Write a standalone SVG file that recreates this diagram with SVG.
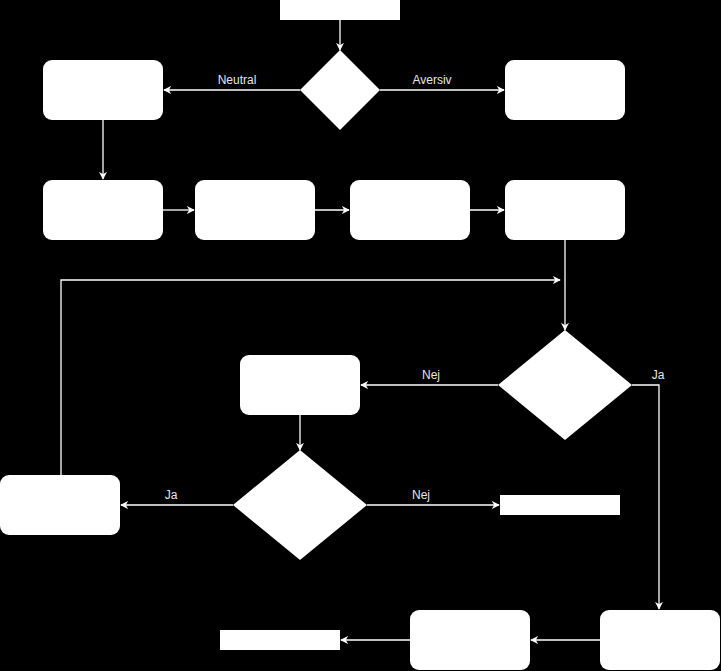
<svg xmlns="http://www.w3.org/2000/svg" width="721" height="671" viewBox="0 0 721 671">
<style>
.n{fill:#fff}
.e{fill:none;stroke:#fff;stroke-width:1.3;marker-end:url(#a)}
.l{fill:#e6e6e6;font-family:"Liberation Sans",Arial,sans-serif;font-size:12px;text-anchor:middle}
</style>
<defs><marker id="a" viewBox="0 0 10 10" refX="9" refY="5" markerWidth="8" markerHeight="8" markerUnits="userSpaceOnUse" orient="auto"><path d="M0,0 L10,5 L0,10 L3,5 Z" fill="#fff"/></marker></defs>
<rect width="721" height="671" fill="#000"/>
<g id="connectors">
<path class="e" d="M340,20 V50"/>
<path class="e" d="M300,90 H164"/>
<path class="e" d="M380,90 H504"/>
<path class="e" d="M103,120 V179"/>
<path class="e" d="M163,210 H194"/>
<path class="e" d="M315,210 H349"/>
<path class="e" d="M470,210 H504"/>
<path class="e" d="M565,240 V330"/>
<path class="e" d="M61,475 V280 H560"/>
<path class="e" d="M498,385 H361"/>
<path class="e" d="M632,385 H659 V609"/>
<path class="e" d="M300,415 V450"/>
<path class="e" d="M233,505 H121"/>
<path class="e" d="M367,505 H499"/>
<path class="e" d="M600,640 H531"/>
<path class="e" d="M410,640 H341"/>
<text class="l" x="237" y="84">Neutral</text>
<text class="l" x="432" y="84">Aversiv</text>
<text class="l" x="431" y="379">Nej</text>
<text class="l" x="658" y="379">Ja</text>
<text class="l" x="171" y="499">Ja</text>
<text class="l" x="421" y="499">Nej</text>
</g>
<g id="start"><rect class="n" x="280" y="0" width="120" height="20"/></g>
<g id="d1"><path class="n" d="M340,50 L380,90 L340,130 L300,90 Z"/></g>
<g id="bA"><rect class="n" x="43" y="60" width="120" height="60" rx="9"/></g>
<g id="bB"><rect class="n" x="505" y="60" width="120" height="60" rx="9"/></g>
<g id="r1"><rect class="n" x="43" y="180" width="120" height="60" rx="9"/></g>
<g id="r2"><rect class="n" x="195" y="180" width="120" height="60" rx="9"/></g>
<g id="r3"><rect class="n" x="350" y="180" width="120" height="60" rx="9"/></g>
<g id="r4"><rect class="n" x="505" y="180" width="120" height="60" rx="9"/></g>
<g id="d2"><path class="n" d="M565,330 L632,385 L565,440 L498,385 Z"/></g>
<g id="bC"><rect class="n" x="240" y="355" width="120" height="60" rx="9"/></g>
<g id="d3"><path class="n" d="M300,450 L367,505 L300,560 L233,505 Z"/></g>
<g id="bD"><rect class="n" x="0" y="475" width="120" height="60" rx="9"/></g>
<g id="end1"><rect class="n" x="500" y="495" width="120" height="20"/></g>
<g id="bE"><rect class="n" x="600" y="610" width="120" height="60" rx="9"/></g>
<g id="bF"><rect class="n" x="410" y="610" width="120" height="60" rx="9"/></g>
<g id="end2"><rect class="n" x="220" y="630" width="120" height="20"/></g>
</svg>
